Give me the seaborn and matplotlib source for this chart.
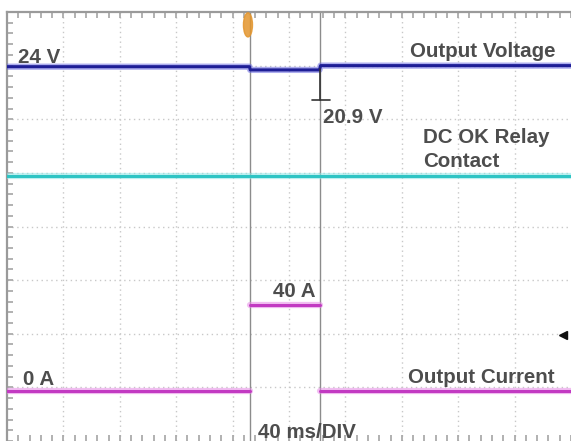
import numpy as np
import pandas as pd
import matplotlib
matplotlib.use("Agg")
import matplotlib.pyplot as plt
from matplotlib.patches import Ellipse
import seaborn as sns

# ---------------- data ----------------
# time base: 40 ms/DIV, 10 divisions
volt_time_ms = [0, 172, 172.5, 221.6, 222.4, 400]
volt_values = [24.0, 24.0, 23.7, 23.7, 24.1, 24.1]
dip_time_ms = [222, 222]
dip_values = [23.8, 20.9]
relay_time_ms = [0, 400]
relay_state = [1, 1]
curr_time_ms = [0, 172, 172, 222, 222, 400]
curr_values = [0, 0, 40, 40, 0, 0]

# channel settings (scale per division and zero position in divisions)
V_PER_DIV, V_ZERO_DIV = 5.0, 6.98 - 24.0 / 5.0
A_PER_DIV, A_ZERO_DIV = 25.0, 0.93
RELAY_POS_DIV = 4.94
cursor_times = [172.3, 222]

sns.set_theme(style="white")
plt.rcParams['font.family'] = ['Liberation Sans', 'DejaVu Sans']

W, H = 571, 441
fig = plt.figure(figsize=(W / 100, H / 100), dpi=100)
ax = fig.add_axes([7 / W, 0, 564 / W, 429 / H])
ax.set_xlim(0, 400)
ax.set_ylim(0, 8)

# grid
for x in range(40, 400, 40):
    ax.axvline(x, color="#c8c8c8", lw=1.0, ls=(0, (1, 2.5)), zorder=0)
for y in range(1, 8):
    ax.axhline(y, color="#c8c8c8", lw=1.0, ls=(0, (1, 2.5)), zorder=0)

# cursors
for c in cursor_times:
    ax.axvline(c, color="#8c8c8c", lw=1.0, zorder=1)


def segments(times, pos):
    """split a step trace into horizontal segments (vertical edges are not drawn)"""
    seg, ids = 0, []
    for i in range(len(times)):
        if i > 0 and times[i] == times[i - 1]:
            seg += 1
        ids.append(seg)
    return pd.DataFrame({"t": times, "pos": pos, "seg": ids})


df_v = segments(volt_time_ms, np.array(volt_values) / V_PER_DIV + V_ZERO_DIV)
df_r = segments(relay_time_ms, np.array(relay_state) * RELAY_POS_DIV)
df_i = segments(curr_time_ms, np.array(curr_values) / A_PER_DIV + A_ZERO_DIV)
df_d = pd.DataFrame({"t": dip_time_ms, "pos": np.array(dip_values) / V_PER_DIV + V_ZERO_DIV})


def trace(df, halo, core):
    sns.lineplot(data=df, x="t", y="pos", units="seg", ax=ax, sort=False, estimator=None,
                 color=halo, lw=4.5, alpha=0.55, zorder=3)
    sns.lineplot(data=df, x="t", y="pos", units="seg", ax=ax, sort=False, estimator=None,
                 color=core, lw=2.2, zorder=4)


trace(df_v, "#6a6ae0", "#1e1e96")
trace(df_r, "#8ee8e8", "#2ec4c4")
trace(df_i, "#e68ae6", "#c23ac2")

# voltage dip marker
sns.lineplot(data=df_d, x="t", y="pos", ax=ax, sort=False, estimator=None,
             color="#333333", lw=1.2, zorder=5)
dip_pos = dip_values[1] / V_PER_DIV + V_ZERO_DIV
ax.plot([216.3, 229.1], [dip_pos, dip_pos], color="#333333", lw=1.2, zorder=5)

# trigger markers
ax.add_patch(Ellipse((170.9, 7.76), 6.4, 0.45, color="#e3962e", alpha=0.85,
                     clip_on=False, zorder=6))
ax.plot([394.6], [(441 - 335) / 53.625], marker="<", color="#111111", ms=6, zorder=6)

# text labels
tc = "#4d4d4d"
kw = dict(color=tc, fontsize=14.8, fontweight="bold", va="baseline", zorder=7)
ax.text(7.8, 7.05, "24 V", ha="left", **kw)
ax.text(388.7, 7.16, "Output Voltage", ha="right", **kw)
ax.text(224.1, 5.93, "20.9 V", ha="left", **kw)
ax.text(295, 5.56, "DC OK Relay", ha="left", **kw)
ax.text(295, 5.11, "Contact", ha="left", **kw)
ax.text(188.7, 2.685, "40 A", ha="left", **kw)
ax.text(11.3, 1.044, "0 A", ha="left", **kw)
ax.text(388.7, 1.08, "Output Current", ha="right", **kw)
ax.text(178, 0.056, "40 ms/DIV", ha="left", **kw)

# frame / ticks
for s in ["right", "bottom"]:
    ax.spines[s].set_visible(False)
for s in ["top", "left"]:
    ax.spines[s].set_color("#9a9a9a")
    ax.spines[s].set_linewidth(1.6)
ax.set_xticks(np.arange(0, 401, 8))
ax.set_yticks(np.arange(0, 8.01, 0.2))
ax.tick_params(axis="x", which="both", direction="in", top=True, bottom=True,
               length=4, color="#a8a8a8", labelbottom=False, labeltop=False)
ax.tick_params(axis="y", which="both", direction="in", left=True, right=False,
               length=4, color="#a8a8a8", labelleft=False)
ax.set_xlabel("")
ax.set_ylabel("")
if ax.get_legend() is not None:
    ax.get_legend().remove()

fig.savefig("out.png", dpi=100)
